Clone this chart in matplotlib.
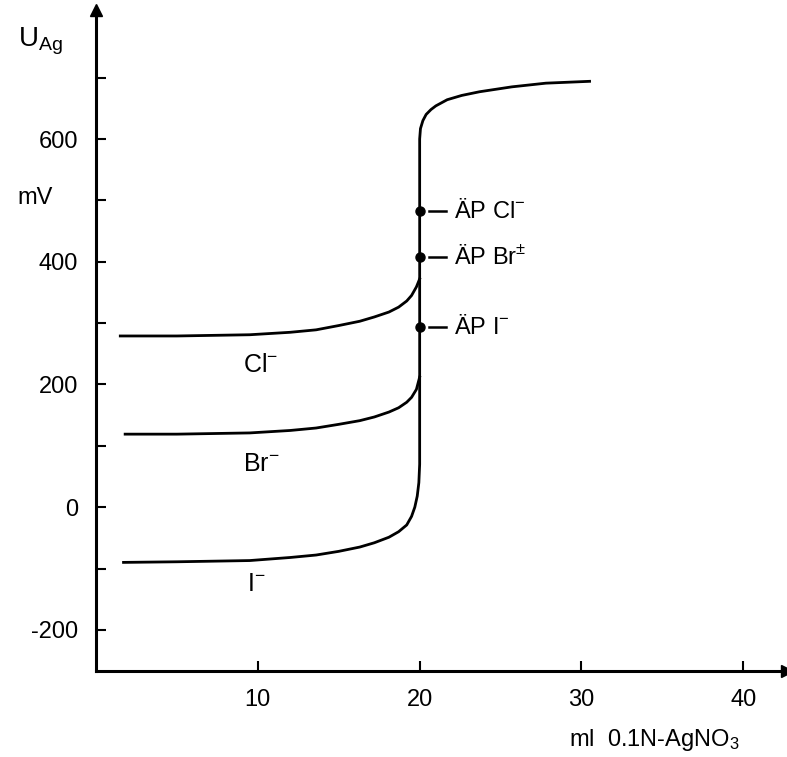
import numpy as np
import matplotlib.pyplot as plt

plt.rcParams['font.family'] = ['Liberation Sans', 'DejaVu Sans']
plt.rcParams['mathtext.fontset'] = 'custom'
plt.rcParams['mathtext.rm'] = 'Liberation Sans'
plt.rcParams['mathtext.default'] = 'regular'
plt.rcParams['axes.unicode_minus'] = False

# ── data ─────────────────────────────────────
cl_x = [1.5, 5.0, 9.5, 12.0, 13.6, 15.0, 16.3, 17.2, 18.1, 18.7, 19.2, 19.5, 19.8, 20.0]
cl_y = [279, 279, 281, 285, 289, 296, 303, 310, 318, 326, 336, 345, 359, 372]

br_x = [1.8, 5.0, 9.5, 12.0, 13.6, 15.0, 16.3, 17.2, 18.1, 18.7, 19.2, 19.5, 19.8, 20.0]
br_y = [119, 119, 121, 125, 129, 135, 141, 147, 155, 162, 171, 179, 192, 212]

i_x = [1.7, 5.0, 9.5, 12.0, 13.6, 15.0, 16.3, 17.2, 18.1, 18.7, 19.2, 19.5, 19.7,
       19.85, 19.95, 20.0, 20.0, 20.05, 20.2, 20.4, 20.7, 21.0, 21.7, 22.6,
       23.7, 25.7, 27.8, 30.5]
i_y = [-90, -89, -87, -82, -78, -72, -65, -58, -49, -40, -29, -15, 0,
       18, 40, 70, 600, 617, 630, 640, 648, 654, 664, 671,
       677, 685, 691, 694]

ep_x = [20, 20, 20]
ep_y = [483, 408, 294]
ep_labels = ["ÄP Cl", "ÄP Br", "ÄP I"]
ep_sup = ["$^{-}$", "$^{\\pm}$", "$^{-}$"]

curve_labels = ["Cl", "Br", "I"]
curve_lab_x = [9.1, 9.1, 9.3]
curve_lab_y = [232, 70, -125]

yticks = [-200, 0, 200, 400, 600]
yminor = [-100, 100, 300, 500, 700]
xticks = [10, 20, 30, 40]
xtick_labels = ["10", "20", "30", "40"]

# ── figure ───────────────────────────────────
fig = plt.figure(figsize=(7.87, 7.57), dpi=100)
ax = fig.add_axes([0.122, 0.1136, 0.878, 0.873])
ax.set_xlim(0, 42.7)
ax.set_ylim(-267, 810)

lw = 2.0
ax.plot(cl_x, cl_y, color="black", lw=lw)
ax.plot(br_x, br_y, color="black", lw=lw)
ax.plot(i_x, i_y, color="black", lw=lw)

ax.plot(ep_x, ep_y, "o", color="black", ms=6.5)
for x, y, lab, sup in zip(ep_x, ep_y, ep_labels, ep_sup):
    ax.plot([x + 0.6, x + 1.6], [y, y], color="black", lw=1.8)
    ax.text(x + 2.1, y, lab + sup, fontsize=17, va="center", ha="left")

for lab, x, y in zip(curve_labels, curve_lab_x, curve_lab_y):
    ax.text(x, y, lab + "$^{-}$", fontsize=18, va="center", ha="left")

# axes with arrows
for s in ["top", "right"]:
    ax.spines[s].set_visible(False)
ax.spines["left"].set_linewidth(2.2)
ax.spines["bottom"].set_linewidth(2.2)
ax.plot(0, 1, "^", color="black", ms=9, transform=ax.transAxes, clip_on=False)
ax.plot(1, 0, ">", color="black", ms=9, transform=ax.transAxes, clip_on=False)

ax.set_yticks(yticks)
ax.set_yticks(yminor, minor=True)
ax.set_xticks(xticks)
ax.set_xticklabels(xtick_labels)
ax.tick_params(axis="both", which="both", direction="in", length=7, width=1.5,
               labelsize=17)
ax.tick_params(axis="y", pad=13)
ax.tick_params(axis="x", pad=13)

fig.text(0.023, 0.945, "U$_{Ag}$", fontsize=20, ha="left", va="center")
fig.text(0.022, 0.738, "mV", fontsize=17, ha="left", va="center")
fig.text(0.723, 0.022, "ml  0.1N-AgNO$_3$", fontsize=17, ha="left", va="center")

fig.savefig("out.png", dpi=100)
